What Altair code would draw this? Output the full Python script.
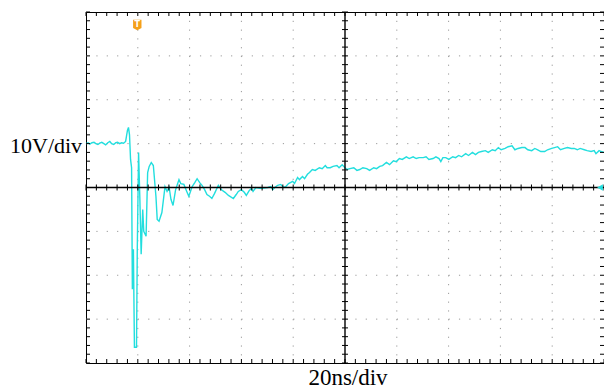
import altair as alt
import pandas as pd

# ---- data (time in ns, voltage in V) ----
time_ns = [-100.0, -99.2, -98.5, -97.7, -96.9, -96.2, -95.4, -94.7, -93.9, -93.1,
           -92.4, -91.6, -90.8, -90.1, -89.3, -88.5, -87.8, -87.0, -86.3, -85.5,
           -84.7, -84.4, -84.0, -83.6, -83.2, -82.8, -82.4, -82.1, -81.7, -81.3,
           -80.5, -80.2, -79.7, -79.2, -78.7, -78.1, -77.7, -76.8, -76.2, -75.6,
           -74.8, -74.0, -73.0, -72.5, -71.8, -70.7, -69.5, -68.7, -67.9, -67.2,
           -66.4, -65.4, -64.1, -63.4, -62.2, -61.1, -60.3, -59.0, -58.0, -57.1,
           -56.1, -55.2, -54.2, -53.3, -52.3, -51.4, -50.4, -48.9, -47.7, -46.3,
           -45.0, -43.1, -42.0, -41.2, -40.0, -38.9, -38.1, -37.0, -36.1, -35.5,
           -34.4, -32.8, -31.3, -29.8, -28.6, -27.9, -27.1, -26.0, -24.8, -23.7,
           -22.9, -21.8, -20.2, -19.5, -18.3, -17.6, -16.4, -15.6, -14.5, -13.7,
           -12.6, -11.5, -9.9, -8.8, -7.6, -6.9, -5.7, -4.6, -3.1, -2.3,
           -1.1, 0.0, 0.8, 1.9, 3.4, 4.6, 5.7, 6.9, 8.4, 9.5,
           11.1, 12.2, 13.4, 14.5, 16.0, 17.2, 18.7, 19.8, 21.0, 22.1,
           23.7, 24.8, 26.3, 27.5, 28.6, 30.2, 31.3, 32.4, 34.0, 35.1,
           36.3, 37.0, 37.8, 38.9, 40.1, 41.6, 42.7, 43.9, 45.0, 46.6,
           47.7, 49.2, 50.4, 51.5, 52.7, 54.2, 55.3, 56.9, 58.0, 59.2,
           60.3, 61.8, 63.0, 64.5, 65.6, 66.8, 68.3, 69.5, 70.6, 72.1,
           73.3, 74.4, 75.6, 77.1, 78.2, 79.8, 80.9, 82.1, 83.2, 84.7,
           85.9, 87.4, 88.5, 89.7, 90.8, 92.4, 93.5, 95.0, 96.2, 96.9,
           98.1, 98.9, 100.0]
volts = [10.0, 10.2, 9.9, 10.2, 10.3, 10.0, 9.8, 10.1, 10.3, 10.0,
         9.7, 10.2, 10.5, 10.0, 9.8, 10.2, 10.3, 10.0, 10.2, 10.1,
         10.5, 11.6, 13.0, 13.7, 12.0, 6.4, 4.5, -23.2, -14.1, -36.4,
         -36.4, -14.1, 8.0, -2.7, -15.2, -5.0, -10.0, -11.1, 3.4, 4.8,
         5.7, 5.0, -2.0, -7.3, -7.7, -5.7, 0.2, -0.9, 0.0, -2.7,
         -4.1, -0.5, 1.8, 0.9, 0.7, -0.9, -2.0, 0.2, 1.1, 2.0,
         1.1, 0.5, -0.5, -1.6, -2.0, -2.5, -1.4, 0.5, -0.5, -1.1,
         -1.8, -2.5, -1.6, -0.9, -0.5, -1.1, -1.8, -0.7, -0.2, -0.9,
         0.0, -0.2, -0.1, 0.0, 0.2, -0.5, 0.0, 0.5, 0.7, 0.0,
         0.2, 0.9, 1.4, 0.9, 2.3, 1.8, 2.5, 2.0, 3.0, 3.4,
         4.1, 3.9, 4.5, 4.3, 5.0, 4.5, 4.5, 4.8, 5.0, 4.5,
         5.2, 4.5, 4.1, 4.3, 4.5, 3.9, 4.1, 4.5, 4.3, 3.9,
         4.5, 4.3, 4.8, 5.0, 5.7, 5.2, 6.1, 5.9, 6.6, 6.4,
         7.0, 6.6, 7.0, 6.6, 6.8, 6.8, 7.0, 6.4, 6.6, 7.0,
         6.6, 5.9, 6.8, 6.8, 6.4, 7.0, 6.8, 7.3, 7.0, 7.7,
         7.3, 8.0, 7.5, 8.0, 8.2, 8.4, 8.0, 8.6, 8.4, 9.1,
         8.6, 8.9, 9.3, 9.5, 8.6, 8.9, 9.1, 9.1, 8.6, 8.4,
         8.9, 8.6, 8.2, 8.2, 8.6, 8.9, 9.1, 9.3, 8.6, 8.9,
         9.1, 8.9, 8.9, 8.6, 8.9, 8.6, 8.4, 8.2, 8.4, 7.7,
         8.4, 8.2, 8.0]

y_label = "10V/div"
x_label = "20ns/div"
trigger_ns = [-80.2]
ground_level_v = [0.0]

grid_t = [-80, -60, -40, -20, 20, 40, 60, 80]
grid_v = [-30, -20, -10, 10, 20, 30]
minor_t = [-100 + 4 * i for i in range(51)]
minor_v = [-40 + 2 * i for i in range(41)]

W, H = 518, 351
TRACE = "#22dede"

xs = alt.Scale(domain=[-100, 100], nice=False, zero=False)
ys = alt.Scale(domain=[-40, 40], nice=False, zero=False)

df = pd.DataFrame({"t": time_ns, "v": volts, "i": range(len(time_ns))})
df_gt = pd.DataFrame({"t": grid_t})
df_gv = pd.DataFrame({"v": grid_v})
df_mt = pd.DataFrame({"t": minor_t})
df_mv = pd.DataFrame({"v": minor_v})

hgrid = alt.Chart(df_gv).mark_rule(color="#9a9a9a", strokeWidth=1, strokeDash=[1.2, W / 50 - 1.2]).encode(
    y=alt.Y("v:Q", scale=ys, axis=None), x=alt.value(0), x2=alt.value(W))
vgrid = alt.Chart(df_gt).mark_rule(color="#9a9a9a", strokeWidth=1, strokeDash=[1.2, H / 40 - 1.2]).encode(
    x=alt.X("t:Q", scale=xs, axis=None), y=alt.value(0), y2=alt.value(H))

trace = alt.Chart(df).mark_line(color=TRACE, strokeWidth=1.4).encode(
    x=alt.X("t:Q", scale=xs, axis=None),
    y=alt.Y("v:Q", scale=ys, axis=None),
    order="i:Q")

hzero = alt.Chart(pd.DataFrame({"v": [0]})).mark_rule(color="black", strokeWidth=1.4).encode(
    y=alt.Y("v:Q", scale=ys, axis=None), x=alt.value(0), x2=alt.value(W))
vzero = alt.Chart(pd.DataFrame({"t": [0]})).mark_rule(color="black", strokeWidth=1.4).encode(
    x=alt.X("t:Q", scale=xs, axis=None), y=alt.value(0), y2=alt.value(H))

tick_style = dict(color="black", strokeWidth=1)
ct_h = alt.Chart(df_mt).mark_rule(**tick_style).encode(
    x=alt.X("t:Q", scale=xs, axis=None), y=alt.value(H / 2 - 3), y2=alt.value(H / 2 + 3))
ct_v = alt.Chart(df_mv).mark_rule(**tick_style).encode(
    y=alt.Y("v:Q", scale=ys, axis=None), x=alt.value(W / 2 - 3), x2=alt.value(W / 2 + 3))
bt_bottom = alt.Chart(df_mt).mark_rule(**tick_style).encode(
    x=alt.X("t:Q", scale=xs, axis=None), y=alt.value(H), y2=alt.value(H - 4))
bt_top = alt.Chart(df_mt).mark_rule(**tick_style).encode(
    x=alt.X("t:Q", scale=xs, axis=None), y=alt.value(0), y2=alt.value(4))
bt_left = alt.Chart(df_mv).mark_rule(**tick_style).encode(
    y=alt.Y("v:Q", scale=ys, axis=None), x=alt.value(0), x2=alt.value(4))
bt_right = alt.Chart(df_mv).mark_rule(**tick_style).encode(
    y=alt.Y("v:Q", scale=ys, axis=None), x=alt.value(W), x2=alt.value(W - 4))

trig_df = pd.DataFrame({"t": trigger_ns})
trig = alt.Chart(trig_df).mark_point(
    shape="M-0.8,-1L0.8,-1L0.8,0.55L0,1L-0.8,0.55Z", size=110, filled=True,
    color="#f5a01a", opacity=1).encode(x=alt.X("t:Q", scale=xs, axis=None), y=alt.value(13))
trig_t = alt.Chart(trig_df).mark_text(
    text="T", color="white", fontSize=8, fontWeight="bold", font="DejaVu Sans",
    baseline="middle").encode(x=alt.X("t:Q", scale=xs, axis=None), y=alt.value(13))

gnd = alt.Chart(pd.DataFrame({"v": ground_level_v})).mark_point(
    shape="triangle-left", size=45, filled=True, color=TRACE, opacity=1).encode(
    y=alt.Y("v:Q", scale=ys, axis=None), x=alt.value(W - 4))

ylab = alt.Chart(pd.DataFrame({"s": [y_label]})).mark_text(
    font="Liberation Serif", fontSize=22, align="left", baseline="middle", color="black").encode(
    text="s:N", x=alt.value(-76), y=alt.value(134))
xlab = alt.Chart(pd.DataFrame({"s": [x_label]})).mark_text(
    font="Liberation Serif", fontSize=23, align="center", baseline="middle", color="black").encode(
    text="s:N", x=alt.value(W / 2 + 3), y=alt.value(366))

chart = alt.layer(
    hgrid, vgrid, trace, hzero, vzero, ct_h, ct_v,
    bt_bottom, bt_top, bt_left, bt_right, trig, trig_t, gnd, ylab, xlab
).properties(
    width=W, height=H,
    autosize=alt.AutoSizeParams(type="none"),
    padding={"left": 78, "top": 4, "right": 0, "bottom": 30},
    background="white",
).configure_view(stroke="black", strokeWidth=1)

chart.save("out.html", embed_options={"renderer": "svg", "actions": False})
